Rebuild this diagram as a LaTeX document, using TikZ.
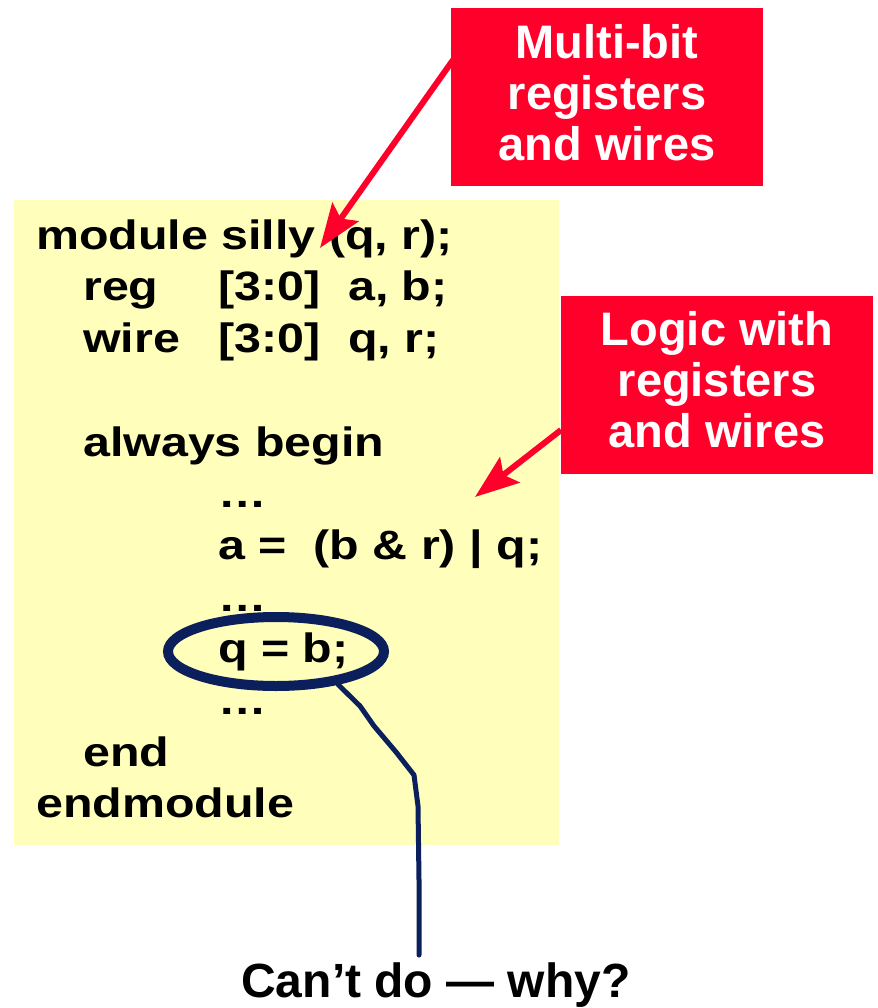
\documentclass[tikz,border=0pt]{standalone}
\usepackage{fontspec}
\setmainfont{Liberation Sans}
\newfontfamily\codefont{Liberation Sans}[FakeStretch=1.18]
\usetikzlibrary{arrows.meta,shapes.geometric}
\definecolor{boxred}{RGB}{255,0,43}
\definecolor{codebg}{RGB}{255,255,187}
\definecolor{navy}{RGB}{10,31,92}
\begin{document}
\begin{tikzpicture}[x=1pt,y=-1pt,
  code/.style={anchor=base west,inner sep=0pt,font=\codefont\bfseries\fontsize{41}{48}\selectfont},
  redlabel/.style={fill=boxred,text=white,font=\bfseries\fontsize{47}{51}\selectfont,
    align=center,inner sep=0pt,minimum width=312pt,minimum height=178pt},
  callout/.style={draw=boxred,line width=6pt,
    -{Stealth[length=44pt,width=32pt,inset=8pt,fill=boxred]}},
  marker/.style={draw=navy,line width=10pt,ellipse,inner sep=0pt,
    minimum width=216pt,minimum height=69pt},
  pointer/.style={draw=navy,line width=5pt,line join=round,line cap=round}
]
\useasboundingbox (0,0) rectangle (877,1008);
% code panel
\node[fill=codebg,inner sep=0pt,minimum width=545pt,minimum height=645pt,anchor=north west] (panel) at (14,200) {};
\node[code] (c1) at (36,249) {module silly (q, r);};
\node[code] (c2a) at (83,300) {reg};
\node[code] (c2b) at (218,300) {[3:0]};
\node[code] (c2c) at (348,300) {a, b;};
\node[code] (c3a) at (83,352) {wire};
\node[code] (c3b) at (218,352) {[3:0]};
\node[code] (c3c) at (348,352) {q, r;};
\node[code] (c4) at (83,456) {always begin};
\node[code] (c5) at (218,507) {…};
\node[code] (c6) at (218,559) {a = \ (b \& r) | q;};
\node[code] (c7) at (218,611) {…};
\node[code] (c8) at (218,662) {q = b;};
\node[code] (c9) at (218,714) {…};
\node[code] (c10) at (83,766) {end};
\node[code] (c11) at (36,817) {endmodule};
% ellipse marker and pointer line
\node[marker] (ell) at (276,651.5) {};
\coordinate (lend) at (419,955);
\draw[pointer] (ell.-28) -- (360,706) -- (374,726) -- (396,752) -- (414,775) -- (418,806) -- (419,880) -- (lend);
\node[anchor=base,inner sep=0pt,font=\bfseries\fontsize{48}{52}\selectfont] (why) at (436,997) {Can’t do — why?};
% red callouts
\node[redlabel] (box1) at (607,97) {Multi-bit\\registers\\and wires\vphantom{g}};
\node[redlabel] (box2) at (717,384.5) {Logic with\\registers\\and wires\vphantom{g}};
\coordinate (a1s) at (453,60);
\coordinate (a1t) at (320,248);
\coordinate (a2s) at (561,430);
\coordinate (a2t) at (475,497);
\draw[callout] (a1s) -- (a1t);
\draw[callout] (a2s) -- (a2t);
\end{tikzpicture}
\end{document}
